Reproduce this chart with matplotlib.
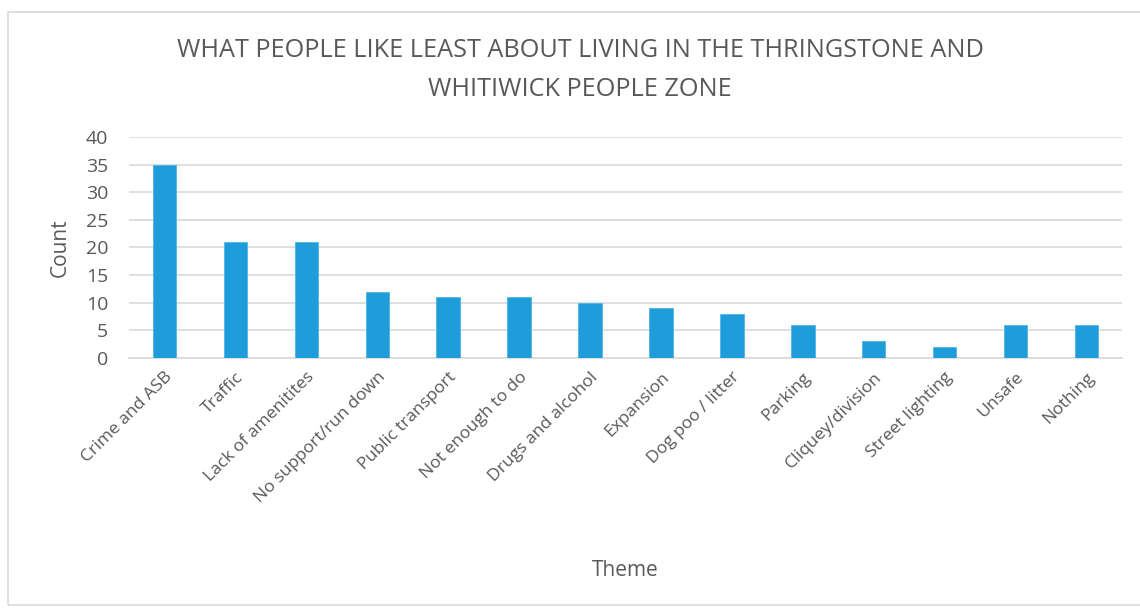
import numpy as np
import matplotlib
matplotlib.use('Agg')
import matplotlib.pyplot as plt
from matplotlib.patches import Rectangle

plt.rcParams['font.family'] = ['Open Sans', 'DejaVu Sans']

themes = ['Crime and ASB', 'Traffic', 'Lack of amenitites', 'No support/run down',
          'Public transport', 'Not enough to do', 'Drugs and alcohol', 'Expansion',
          'Dog poo / litter', 'Parking', 'Cliquey/division', 'Street lighting',
          'Unsafe', 'Nothing']
counts = [35, 21, 21, 12, 11, 11, 10, 9, 8, 6, 3, 2, 6, 6]
y_ticks = [0, 5, 10, 15, 20, 25, 30, 35, 40]

text_col = '#595959'
bar_col = '#1F9DDA'

fig = plt.figure(figsize=(11.4, 6.13), dpi=100)
fig.patches.append(Rectangle((8/1140, 1-605/613), 1.0, 593/613, transform=fig.transFigure,
                             fill=False, edgecolor='#d9d9d9', linewidth=1.2))
ax = fig.add_axes([129/1140, 1-358/613, 993/1140, 221/613])

x = np.arange(len(themes))
ax.bar(x, counts, width=0.33, color=bar_col, edgecolor='#4fb6e6', linewidth=0.6, zorder=3)
ax.set_xlim(-0.5, len(themes) - 0.5)
ax.set_ylim(0, 40)
ax.set_yticks(y_ticks)
ax.set_yticklabels([str(v) for v in y_ticks], fontsize=14, color=text_col)
ax.set_xticks(x)
ax.set_xticklabels(themes, rotation=45, ha='right', rotation_mode='anchor',
                   fontsize=12.6, color=text_col)
ax.tick_params(axis='x', length=0, pad=8)
ax.tick_params(axis='y', length=0, pad=15)
ax.grid(axis='y', color='#d9d9d9', linewidth=1.2, zorder=0)
for s in ['top', 'right', 'left']:
    ax.spines[s].set_visible(False)
ax.spines['bottom'].set_color('#d9d9d9')
ax.spines['bottom'].set_linewidth(1.2)

fig.text(60/1140, 1-248/613, 'Count', rotation=90, ha='center', va='center',
         fontsize=15, color=text_col)
fig.text(625/1140, 1-571/613, 'Theme', ha='center', va='center',
         fontsize=15, color=text_col)
fig.text(580/1140, 1-70/613,
         'WHAT PEOPLE LIKE LEAST ABOUT LIVING IN THE THRINGSTONE AND\nWHITIWICK PEOPLE ZONE',
         ha='center', va='center', fontsize=18.2, color=text_col, linespacing=1.7)

fig.savefig('out.png', dpi=100)
